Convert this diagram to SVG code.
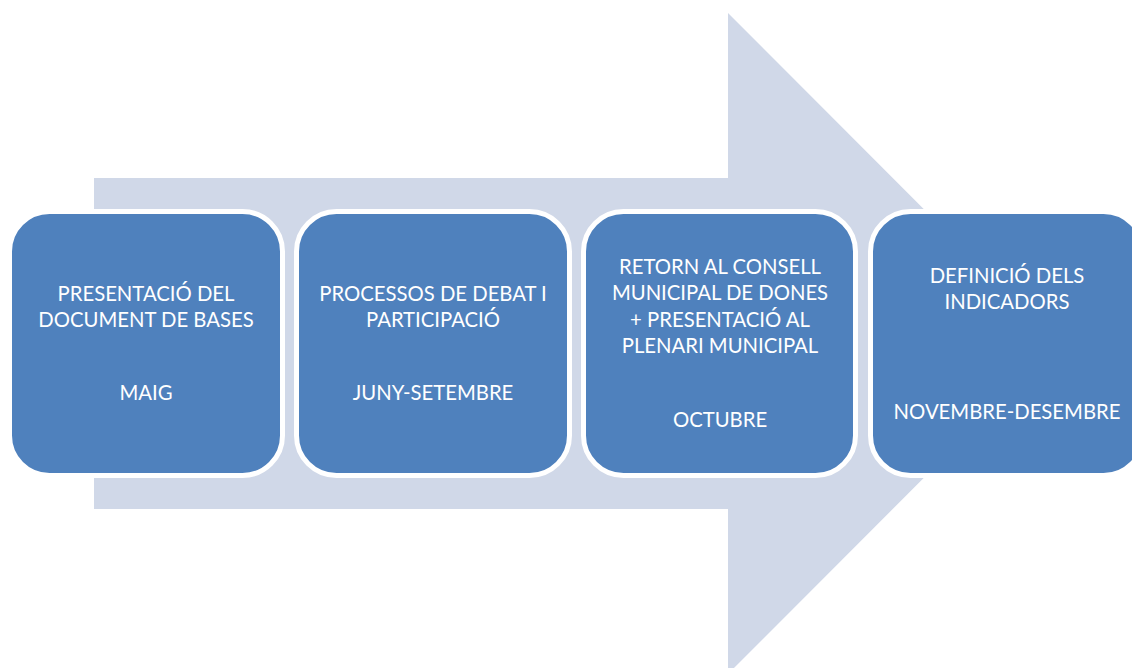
<svg xmlns="http://www.w3.org/2000/svg" width="1132" height="668" viewBox="0 0 1132 668">
<style>
.box{fill:#4F81BD;stroke:#FFFFFF;stroke-width:5}
.t{font-family:Lato,"Open Sans","Liberation Sans",sans-serif;font-size:20.3px;fill:#FFFFFF;text-anchor:middle}
</style>
<rect width="1132" height="668" fill="#FFFFFF"/>
<g id="arrow">
<polygon points="94,178 728,178 728,13 1058,343.5 728,674 728,509 94,509" fill="#D0D8E8"/>
</g>
<g id="connectors"></g>
<g id="node1">
<rect class="box" x="9.5" y="211.5" width="273" height="264" rx="40" ry="40"/>
<text class="t" x="146" y="301">PRESENTACIÓ DEL</text>
<text class="t" x="146" y="327">DOCUMENT DE BASES</text>
<text class="t" x="146" y="400">MAIG</text>
</g>
<g id="node2">
<rect class="box" x="296.5" y="211.5" width="273" height="264" rx="40" ry="40"/>
<text class="t" x="433" y="301">PROCESSOS DE DEBAT I</text>
<text class="t" x="433" y="327">PARTICIPACIÓ</text>
<text class="t" x="433" y="400">JUNY-SETEMBRE</text>
</g>
<g id="node3">
<rect class="box" x="583.5" y="211.5" width="272" height="264" rx="40" ry="40"/>
<text class="t" x="720" y="273.5">RETORN AL CONSELL</text>
<text class="t" x="720" y="300">MUNICIPAL DE DONES</text>
<text class="t" x="720" y="326.5">+ PRESENTACIÓ AL</text>
<text class="t" x="720" y="352.5">PLENARI MUNICIPAL</text>
<text class="t" x="720" y="427">OCTUBRE</text>
</g>
<g id="node4">
<rect class="box" x="870.5" y="211.5" width="273" height="264" rx="40" ry="40"/>
<text class="t" x="1007" y="283">DEFINICIÓ DELS</text>
<text class="t" x="1007" y="308.5">INDICADORS</text>
<text class="t" x="1007" y="418.5">NOVEMBRE-DESEMBRE</text>
</g>
</svg>
